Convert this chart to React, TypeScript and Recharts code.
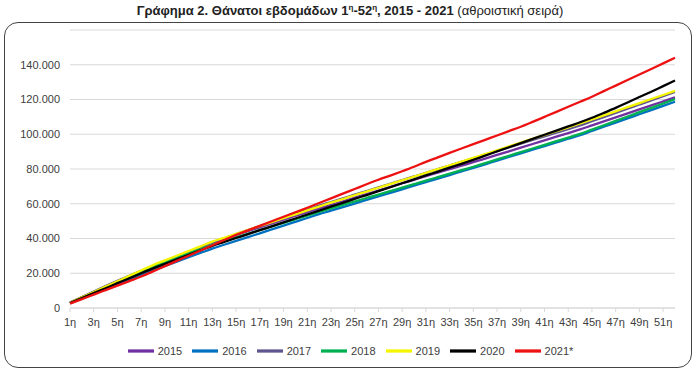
import { LineChart, Line, XAxis, YAxis, CartesianGrid, Legend } from 'recharts';

// Cumulative deaths per week (weeks 1-52)
const weeks = Array.from({ length: 52 }, (_, i) => `${i + 1}η`);

const y2015 = [
  3000, 6100, 9200, 12300, 15300, 18300, 21200, 24100, 26800, 29500, 32200, 34900, 37600,
  39800, 42000, 44200, 46400, 48600, 50800, 53000, 55200, 57300, 59400, 61400, 63500, 65500,
  67600, 69700, 71800, 73800, 75900, 77900, 79900, 81900, 83900, 86000, 88100, 90200, 92300,
  94400, 96500, 98600, 100700, 102800, 105100, 107400, 109700, 112000, 114300, 116600, 118900, 121200,
];
const y2016 = [
  2800, 5500, 8200, 10900, 13600, 16300, 19000, 21700, 24200, 26700, 29200, 31700, 34200,
  36400, 38600, 40800, 43000, 45200, 47400, 49600, 51800, 54000, 56000, 58100, 60100, 62200,
  64200, 66300, 68300, 70400, 72400, 74500, 76500, 78600, 80600, 82700, 84800, 86900, 89000,
  91100, 93200, 95300, 97400, 99500, 101900, 104300, 106700, 109100, 111500, 113900, 116300, 118700,
];
const y2017 = [
  3100, 6300, 9500, 12600, 15600, 18500, 21400, 24200, 27000, 29700, 32400, 35100, 37800,
  40100, 42500, 44800, 47200, 49500, 51900, 54200, 56600, 58900, 61000, 63100, 65200, 67300,
  69400, 71500, 73600, 75700, 77800, 79900, 82000, 84100, 86200, 88300, 90400, 92500, 94600,
  96700, 98800, 100900, 103000, 105100, 107500, 109900, 112300, 114700, 117100, 119500, 121900, 124300,
];
const y2018 = [
  2900, 5900, 8900, 11900, 14900, 17900, 20900, 23900, 26400, 28900, 31400, 33900, 36400,
  38500, 40600, 42700, 44800, 46900, 49000, 51100, 53200, 55300, 57300, 59300, 61300, 63300,
  65300, 67300, 69300, 71300, 73300, 75300, 77300, 79300, 81300, 83400, 85500, 87600, 89700,
  91800, 93900, 96000, 98100, 100200, 102700, 105200, 107700, 110200, 112700, 115200, 117700, 120200,
];
const y2019 = [
  3000, 6100, 9200, 12300, 15400, 18500, 21600, 24700, 27400, 30100, 32800, 35500, 38200,
  40400, 42700, 44900, 47200, 49400, 51700, 53900, 56200, 58400, 60600, 62700, 64900, 67000,
  69200, 71300, 73500, 75600, 77800, 79900, 82100, 84200, 86400, 88600, 90800, 93000, 95200,
  97400, 99600, 101800, 104000, 106200, 108500, 110900, 113200, 115600, 117900, 120300, 122600, 125000,
];
const y2020 = [
  2900, 5700, 8600, 11400, 14300, 17100, 20000, 22800, 25400, 28000, 30600, 33200, 35800,
  38000, 40300, 42500, 44800, 47000, 49300, 51500, 53800, 56000, 58300, 60500, 62800, 65000,
  67300, 69500, 71800, 74000, 76300, 78500, 80800, 83000, 85300, 87700, 90100, 92500, 94900,
  97300, 99700, 102100, 104500, 106900, 109500, 112300, 115200, 118300, 121400, 124500, 127700, 130900,
];
const y2021 = [
  2500, 5100, 7700, 10300, 12900, 15500, 18100, 21100, 24100, 27100, 30100, 33100, 36100,
  39100, 42100, 44700, 47300, 49900, 52500, 55100, 57700, 60400, 63100, 65800, 68500, 71200,
  73800, 76200, 78700, 81300, 84100, 86700, 89300, 91800, 94300, 96800, 99300, 101800, 104300,
  107100, 110000, 112900, 115800, 118700, 121600, 124800, 128000, 131200, 134400, 137600, 140800, 144000,
];

const yTicks = [0, 20000, 40000, 60000, 80000, 100000, 120000, 140000];

const series = [
  { key: 'y2015', name: '2015', color: '#7030a0', values: y2015 },
  { key: 'y2016', name: '2016', color: '#0070c0', values: y2016 },
  { key: 'y2017', name: '2017', color: '#5f5690', values: y2017 },
  { key: 'y2018', name: '2018', color: '#00b050', values: y2018 },
  { key: 'y2019', name: '2019', color: '#f5f500', values: y2019 },
  { key: 'y2020', name: '2020', color: '#000000', values: y2020 },
  { key: 'y2021', name: '2021*', color: '#ee1111', values: y2021 },
];

const data = weeks.map((w, i) => {
  const row: Record<string, string | number> = { week: w };
  series.forEach((s) => { row[s.key] = s.values[i]; });
  return row;
});

const fmt = (v: number) => (v === 0 ? '0' : `${v / 1000}.000`);

export default function App() {
  return (
    <div style={{ position: 'absolute', left: 0, top: 0, width: 700, height: 373, background: '#fff', fontFamily: '"Liberation Sans", Arial, sans-serif' }}>
      <div style={{ position: 'absolute', top: 3, left: 0, width: 700, textAlign: 'center', fontSize: 13, color: '#222', whiteSpace: 'nowrap' }}>
        <b>
          Γράφημα 2. Θάνατοι εβδομάδων 1<sup style={{ fontSize: 8 }}>η</sup>-52<sup style={{ fontSize: 8 }}>η</sup>, 2015 - 2021
        </b>{' '}
        (αθροιστική σειρά)
      </div>
      <div style={{ position: 'absolute', left: 4, top: 22, width: 688, height: 346, boxSizing: 'border-box', border: '1.5px solid #444', borderRadius: 14 }} />
      <div style={{ position: 'absolute', left: 0, top: 0 }}>
        <LineChart width={700} height={373} data={data} margin={{ top: 30, right: 25, left: 0, bottom: 9 }}>
          <CartesianGrid stroke="#d9d9d9" vertical={false} />
          <XAxis
            dataKey="week"
            interval={1}
            height={30}
            tick={{ fontSize: 11, fill: '#404040' }}
            tickSize={4}
            tickMargin={6}
            tickLine={{ stroke: '#d9d9d9' }}
            axisLine={{ stroke: '#d9d9d9' }}
          />
          <YAxis
            width={70}
            domain={[0, 160000]}
            ticks={yTicks}
            tickFormatter={fmt}
            tick={{ fontSize: 11, fill: '#404040' }}
            tickSize={0}
            tickMargin={10}
            axisLine={false}
            tickLine={false}
          />
          <Legend
            verticalAlign="bottom"
            iconType="plainline"
            iconSize={26}
            wrapperStyle={{ left: 18 }}
            formatter={(v) => <span style={{ color: '#404040', fontSize: 11 }}>{v}</span>}
          />
          {series.map((s) => (
            <Line
              key={s.key}
              type="monotone"
              dataKey={s.key}
              name={s.name}
              stroke={s.color}
              strokeWidth={2.3}
              dot={false}
              isAnimationActive={false}
            />
          ))}
        </LineChart>
      </div>
    </div>
  );
}
